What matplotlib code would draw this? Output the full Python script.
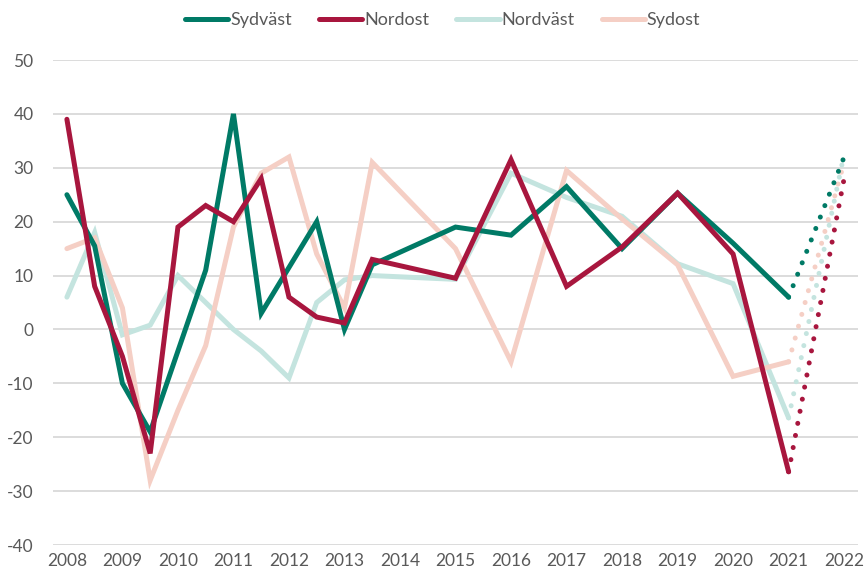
import matplotlib.pyplot as plt

plt.rcParams["font.family"] = ["Lato", "DejaVu Sans"]
plt.rcParams["axes.unicode_minus"] = False

# half-yearly until 2013, then yearly
years = [2008, 2008.5, 2009, 2009.5, 2010, 2010.5, 2011, 2011.5, 2012, 2012.5,
         2013, 2013.5, 2015, 2016, 2017, 2018, 2019, 2020, 2021]

sydvast = [25, 15.5, -10, -19, -4, 11, 40, 3, 11.5, 20,
           0, 12, 19, 17.5, 26.5, 15, 25.3, 16, 6]
nordost = [39, 8, -5, -23, 19, 23, 20, 28, 6, 2.3,
           1.2, 13, 9.5, 31.5, 8, 15.3, 25.3, 14, -26.4]
nordvast = [6, 18, -1, 0.8, 10, 5, 0, -4, -9, 5,
            9.2, 10, 9.3, 29, 24.5, 21, 12.2, 8.5, -16.4]
sydost = [15, 17, 4, -28, -15, -3, 19, 29, 32, 14,
          4, 31, 15, -6, 29.5, 20.5, 12, -8.7, -6]

# forecast 2021 -> 2022 (dotted)
forecast_years = [2021, 2022]
forecast_2022 = {"Sydväst": 32, "Nordost": 28, "Nordväst": 32.5, "Sydost": 31}

series = [
    ("Sydväst", sydvast, "#007A66", 4),
    ("Nordost", nordost, "#A8163E", 5),
    ("Nordväst", nordvast, "#C4E4DF", 2),
    ("Sydost", sydost, "#F5CFC5", 3),
]

fig = plt.figure(figsize=(8.65, 5.76), dpi=100)
ax = fig.add_axes([0.0613, 0.0538, 0.9306, 0.842])

lw = 3.6
for name, values, color, z in series:
    ax.plot(years, values, color=color, lw=lw, label=name, zorder=z,
            solid_capstyle="round", solid_joinstyle="miter")
    ax.plot(forecast_years, [values[-1], forecast_2022[name]], color=color,
            lw=lw, linestyle=(0, (0.01, 2.45)), dash_capstyle="round", zorder=z)

ax.set_xlim(2007.75, 2022.25)
ax.set_ylim(-40, 50)
ax.set_xticks(range(2008, 2023))
ax.set_yticks(range(-40, 51, 10))
ax.grid(axis="y", color="#D9D9D9", lw=1.3)
ax.set_axisbelow(True)
for s in ax.spines.values():
    s.set_visible(False)
ax.tick_params(length=0, labelsize=12.5, colors="#595959", pad=6)
ax.tick_params(axis="y", pad=14)

leg = ax.legend(loc="center", bbox_to_anchor=(0.484, 1.082), ncol=4,
                frameon=False, fontsize=13, handlelength=2.4,
                handletextpad=0.1, columnspacing=1.5)
for t in leg.get_texts():
    t.set_color("#595959")
for h in leg.get_lines():
    h.set_solid_capstyle("round")

fig.savefig("out.png", dpi=100)
